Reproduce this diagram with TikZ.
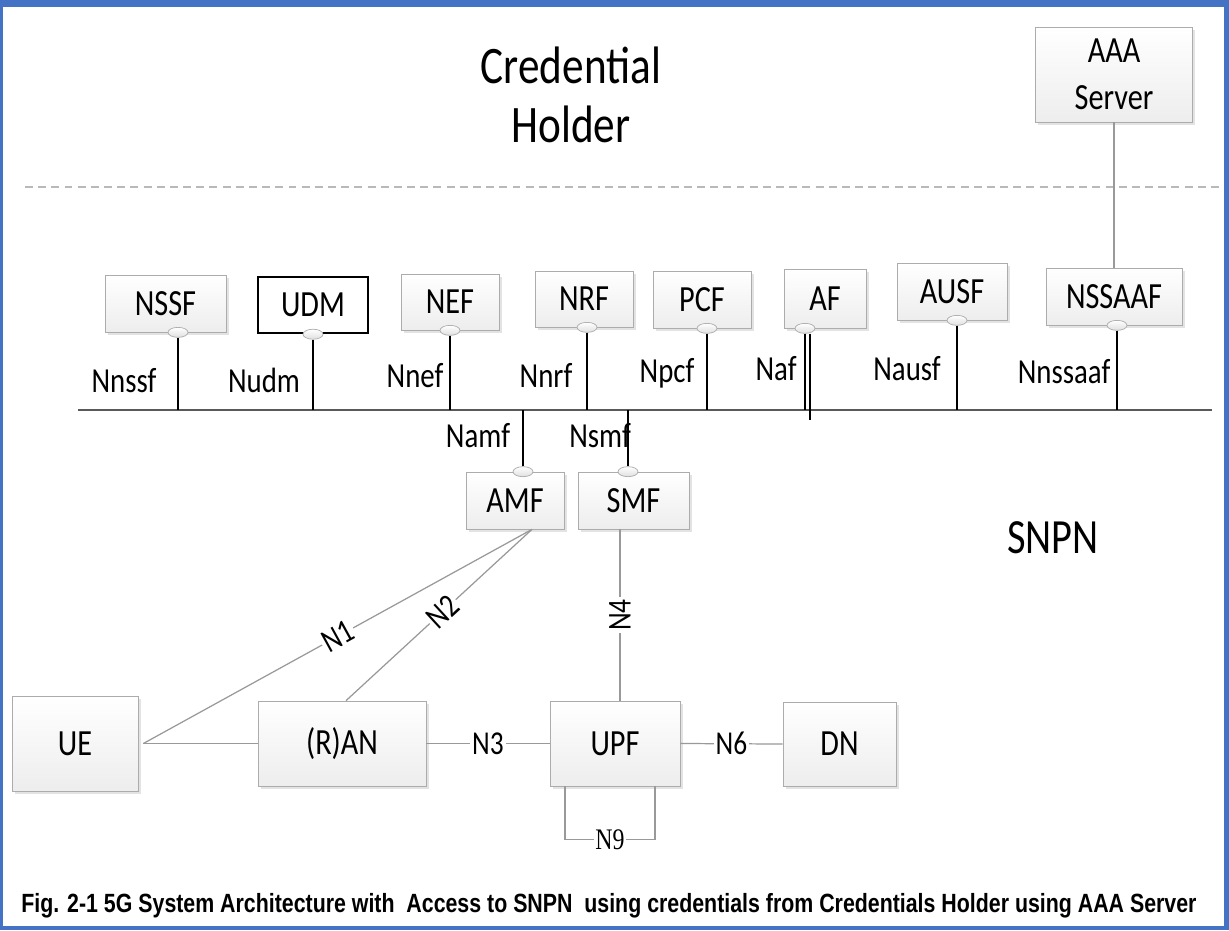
\documentclass[tikz,border=0pt]{standalone}
\usepackage{fontspec}
\setmainfont{Carlito}[FakeStretch=0.82]
\newfontfamily\capfont[FakeStretch=0.81]{Liberation Sans}
\newfontfamily\nineserif[FakeStretch=0.8]{Liberation Serif}
\usetikzlibrary{shapes.geometric,shadows}
\definecolor{framebl}{HTML}{4472C4}

\begin{document}
\begin{tikzpicture}[x=0.02cm, y=-0.02cm,
    nf/.style={draw=gray!65, top color=white, bottom color=gray!14, inner sep=0pt,
      font=\fontsize{21}{27}\selectfont, align=center,
      drop shadow={shadow xshift=1.6pt, shadow yshift=-1.6pt, fill=gray!22, opacity=1}},
    nfbold/.style={draw=black, line width=1.4pt, fill=white, inner sep=0pt,
      font=\fontsize{21}{27}\selectfont},
    sz/.style 2 args={minimum width=#1cm, minimum height=#2cm},
    port/.style={ellipse, draw=gray!65, top color=white, bottom color=gray!25,
      minimum width=0.4cm, minimum height=0.2cm, inner sep=0pt},
    iface/.style={line width=1.2pt, black},
    bus/.style={line width=0.8pt, gray!70!black},
    link/.style={line width=0.7pt, gray!80},
    ifl/.style={font=\fontsize{20}{24}\selectfont, anchor=base, inner sep=0pt},
    nlbl/.style={font=\fontsize{19}{22}\selectfont, fill=white, text=black, inner sep=1pt}
  ]
  \useasboundingbox (0,0) rectangle (1229,930);
  % frame
  \fill[framebl] (0,0) rectangle (1229,930);
  \fill[white] (3,7) rectangle (1224,926);

  % domains
  \node[font=\fontsize{30}{34}\selectfont, align=center] (holder) at (571,95) {Credential\\Holder};
  \node[font=\fontsize{28}{32}\selectfont, anchor=base] (snpn) at (1053,553) {SNPN};
  \coordinate (dashw) at (25,187);
  \coordinate (dashe) at (1224,187);
  \draw[gray!55, dash pattern=on 4.5pt off 3pt, line width=.6pt] (dashw) -- (dashe);

  % network functions
  \node[nf, sz={3.14}{1.9}] (aaa) at (1114,74.5) {AAA\\Server};
  \node[nf, sz={2.42}{1.14}] (nssf) at (165.5,303.5) {NSSF};
  \node[nfbold, sz={2.2}{1.12}] (udm) at (313,305) {UDM};
  \node[nf, sz={1.96}{1.12}] (nef) at (450,302) {NEF};
  \node[nf, sz={1.96}{1.12}] (nrf) at (584,299) {NRF};
  \node[nf, sz={1.96}{1.14}] (pcf) at (702,299.5) {PCF};
  \node[nf, sz={1.64}{1.18}] (af) at (825,298.5) {AF};
  \node[nf, sz={2.2}{1.14}] (ausf) at (952,291.5) {AUSF};
  \node[nf, sz={2.72}{1.14}] (nssaaf) at (1114,296.5) {NSSAAF};
  \node[nf, sz={1.96}{1.14}] (amf) at (515,500.5) {AMF};
  \node[nf, sz={2.22}{1.14}] (smf) at (633.5,500.5) {SMF};
  \node[nf, sz={2.52}{1.9}] (ue) at (75,743.5) {UE};
  \node[nf, sz={3.36}{1.7}] (ran) at (342,743.5) {(R)AN};
  \node[nf, sz={2.6}{1.7}] (upf) at (615,743.5) {UPF};
  \node[nf, sz={2.26}{1.68}] (dn) at (839.5,744) {DN};

  % service bus
  \coordinate (busw) at (78,410);
  \coordinate (buse) at (1212,410);
  \draw[bus] (busw) -- (buse);
  \foreach \f/\dx in {nssf/.25, udm/0, nef/0, nrf/.06, pcf/.1, ausf/.1, nssaaf/.06} {
    \node[port] (p\f) at ([xshift=\dx cm]\f.south) {};
    \draw[iface] (p\f.south) -- (p\f |- busw);
  }
  \node[port] (paf) at ([xshift=-.4cm]af.south) {};
  \draw[iface] (paf.south) -- (paf |- busw);
  \draw[iface] ([xshift=.1cm]paf.south) -- ([xshift=.1cm, yshift=-.2cm]paf |- busw);
  \node[port] (pamf) at ([xshift=.16cm]amf.north) {};
  \draw[iface] (pamf.north) -- (pamf |- busw);
  \node[port] (psmf) at ([xshift=-.11cm]smf.north) {};
  \draw[iface] (psmf.north) -- (psmf |- busw);

  % service interface names
  \node[ifl] (lnssf) at (124,392) {Nnssf};
  \node[ifl] (ludm) at (264,392) {Nudm};
  \node[ifl] (lnef) at (415,387) {Nnef};
  \node[ifl] (lnrf) at (546,387) {Nnrf};
  \node[ifl] (lpcf) at (667,382) {Npcf};
  \node[ifl] (laf) at (776,380) {Naf};
  \node[ifl] (lausf) at (907,380) {Nausf};
  \node[ifl] (lnssaaf) at (1064,383) {Nnssaaf};
  \node[ifl] (lamf) at (478,447) {Namf};
  \node[ifl] (lsmf) at (600,447) {Nsmf};

  % reference points
  \draw[link] (aaa.south) -- (aaa.south |- nssaaf.north);
  \coordinate (uej) at ([xshift=.1cm]ue.east);
  \coordinate (amfs) at ([xshift=.34cm]amf.south);
  \coordinate (smfs) at ([xshift=-.27cm]smf.south);
  \draw[link] (uej) -- (ran.west);
  \draw[link] (uej) -- node[nlbl, sloped] {N1} (amfs);
  \draw[link] ([xshift=.08cm]ran.north) -- node[nlbl, sloped, pos=.52] {N2} (amfs);
  \draw[link] (smfs) -- node[nlbl, rotate=90] {N4} (smfs |- upf.north);
  \draw[link] (ran.east) -- node[nlbl] {N3} (upf.west);
  \draw[link] (upf.east) -- node[nlbl] {N6} (dn.west);
  \draw[link] ([xshift=-1cm]upf.south) -- ++(0,53) -| node[pos=.25, fill=white, text=black, inner sep=1pt,
    font=\nineserif\fontsize{17}{19}\selectfont] {N9} ([xshift=.8cm]upf.south);

  % caption
  \node[font=\capfont\bfseries\fontsize{15}{17}\selectfont, anchor=base west, inner sep=0pt] (cap)
    at (21,912) {Fig. 2-1 5G System Architecture with\ \ Access to SNPN\ \ using credentials from Credentials Holder using AAA Server};
\end{tikzpicture}
\end{document}
